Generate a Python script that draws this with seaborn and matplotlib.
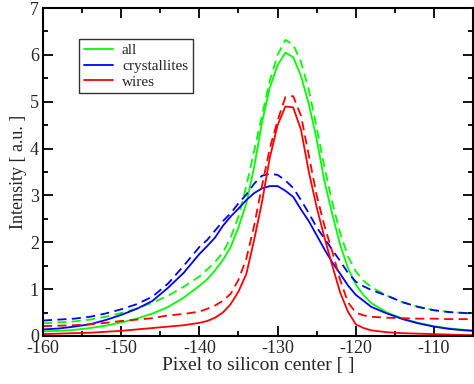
import numpy as np
import pandas as pd
import matplotlib
matplotlib.use("Agg")
import matplotlib.pyplot as plt
from matplotlib.ticker import MultipleLocator
import seaborn as sns

# pixel position relative to silicon center
pixel = [-160, -158, -156, -154, -152, -150, -148, -146, -144, -142,
         -140, -139, -138, -137, -136, -135, -134, -133, -132, -131,
         -130, -129, -128, -127, -126, -125, -124, -123, -122, -121,
         -120, -119, -118, -116, -114, -112, -110, -108, -106, -105]

all_solid = [0.10, 0.11, 0.13, 0.17, 0.22, 0.29, 0.37, 0.48, 0.62, 0.82,
             1.07, 1.21, 1.40, 1.62, 1.90, 2.32, 2.83, 3.60, 4.55, 5.30,
             5.78, 6.05, 5.95, 5.55, 4.95, 4.20, 3.30, 2.60, 1.95, 1.45,
             1.10, 0.87, 0.70, 0.50, 0.37, 0.28, 0.21, 0.16, 0.13, 0.12]
all_dash = [0.27, 0.29, 0.31, 0.35, 0.41, 0.49, 0.59, 0.71, 0.86, 1.05,
            1.27, 1.42, 1.58, 1.78, 2.10, 2.55, 3.20, 3.95, 4.70, 5.45,
            6.00, 6.32, 6.22, 5.85, 5.25, 4.45, 3.60, 2.85, 2.20, 1.70,
            1.38, 1.18, 1.04, 0.86, 0.72, 0.62, 0.55, 0.51, 0.49, 0.48]
cryst_solid = [0.14, 0.16, 0.20, 0.25, 0.34, 0.45, 0.58, 0.75, 1.03, 1.35,
               1.75, 1.92, 2.10, 2.35, 2.55, 2.72, 2.90, 3.05, 3.15, 3.20,
               3.20, 3.10, 2.97, 2.70, 2.45, 2.15, 1.85, 1.57, 1.33, 1.08,
               0.88, 0.75, 0.62, 0.48, 0.36, 0.27, 0.20, 0.15, 0.12, 0.11]
cryst_dash = [0.33, 0.35, 0.37, 0.41, 0.48, 0.57, 0.68, 0.84, 1.12, 1.50,
              1.90, 2.05, 2.25, 2.45, 2.62, 2.83, 3.02, 3.25, 3.42, 3.46,
              3.44, 3.32, 3.16, 2.90, 2.62, 2.32, 2.08, 1.84, 1.60, 1.35,
              1.16, 1.06, 0.98, 0.86, 0.72, 0.62, 0.55, 0.51, 0.49, 0.48]
wires_solid = [0.04, 0.05, 0.06, 0.07, 0.09, 0.11, 0.14, 0.17, 0.20, 0.23,
               0.28, 0.32, 0.39, 0.50, 0.68, 0.95, 1.32, 2.05, 2.85, 3.80,
               4.50, 4.90, 4.88, 4.40, 3.50, 2.75, 2.10, 1.50, 0.93, 0.52,
               0.25, 0.17, 0.12, 0.08, 0.06, 0.05, 0.04, 0.03, 0.02, 0.02]
wires_dash = [0.21, 0.22, 0.23, 0.25, 0.28, 0.32, 0.35, 0.38, 0.44, 0.47,
              0.52, 0.58, 0.65, 0.75, 0.90, 1.20, 1.65, 2.35, 3.20, 4.00,
              4.60, 5.10, 5.12, 4.70, 3.85, 3.00, 2.35, 1.80, 1.20, 0.72,
              0.50, 0.44, 0.41, 0.39, 0.38, 0.37, 0.37, 0.36, 0.36, 0.36]

df = pd.DataFrame({"pixel": pixel,
                   "all": all_solid, "all_d": all_dash,
                   "crystallites": cryst_solid, "crystallites_d": cryst_dash,
                   "wires": wires_solid, "wires_d": wires_dash})

sns.set_style("ticks")
plt.rcParams["font.family"] = ["Liberation Serif", "DejaVu Serif"]
plt.rcParams["axes.unicode_minus"] = False
plt.rcParams["xtick.direction"] = "in"
plt.rcParams["ytick.direction"] = "in"

fig = plt.figure(figsize=(4.74, 3.84), dpi=100)
ax = fig.add_axes([0.0907, 0.125, 0.9073, 0.854])

colors = {"all": "#00ff00", "crystallites": "#0000ff", "wires": "#ff0000"}
lw = 1.3
for name, c in colors.items():
    sns.lineplot(data=df, x="pixel", y=name, color=c, lw=lw, label=name, ax=ax)
    sns.lineplot(data=df, x="pixel", y=name + "_d", color=c, lw=lw, ax=ax,
                 legend=False)
# dashed style for the second set
for line in ax.lines[1::2]:
    line.set_dashes((5, 3))

ax.set_xlim(-160, -105)
ax.set_ylim(0, 7)
ax.xaxis.set_major_locator(MultipleLocator(10))
ax.xaxis.set_minor_locator(MultipleLocator(5))
ax.yaxis.set_major_locator(MultipleLocator(1))
ax.yaxis.set_minor_locator(MultipleLocator(0.5))
ax.tick_params(which="both", direction="in", top=True, right=True,
               labelsize=13, width=1.3, color="black", pad=3)
ax.tick_params(which="major", length=7)
ax.tick_params(which="minor", length=3.8)
for s in ax.spines.values():
    s.set_linewidth(1.5)
    s.set_color("black")

ax.set_xlabel("Pixel to silicon center [ ]", fontsize=14, labelpad=0)
ax.set_ylabel("Intensity [ a.u. ]", fontsize=13, labelpad=2)

leg = ax.legend(loc="upper left", bbox_to_anchor=(0.084, 0.905), fontsize=11,
                frameon=True, fancybox=False, handlelength=1.9,
                handletextpad=0.6, borderpad=0.3, labelspacing=0.12,
                borderaxespad=0)
leg.get_frame().set_edgecolor("black")
leg.get_frame().set_linewidth(1.0)

fig.savefig("out.png", dpi=100)
